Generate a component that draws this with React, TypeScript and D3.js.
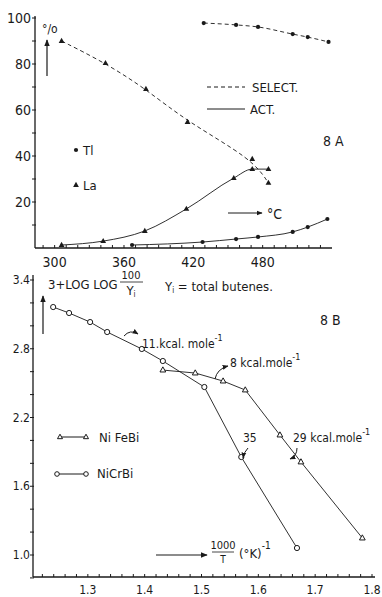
import React from 'react';
import * as d3 from 'd3';

// 8A: temperature (°C) vs % — La (triangles) and Tl (dots)
const laSelect: [number, number][] = [[306, 90], [344, 80.4], [379, 69.1], [415, 54.8], [471, 38.7], [485, 28.3]];
const laAct: [number, number][] = [[306, 1.3], [342, 3.0], [378, 7.4], [414, 17.0], [455, 30.4], [471, 34.3], [485, 34.3]];
const tlSelect: [number, number][] = [[429, 97.8], [457, 97.0], [476, 96.1], [506, 93.0], [519, 91.7], [537, 89.6]];
const tlAct: [number, number][] = [[367, 1.3], [428, 2.6], [457, 3.9], [476, 4.8], [506, 7.0], [519, 9.1], [536, 12.6]];
const aXTicks = [300, 360, 420, 480];
const aYTicks = [20, 40, 60, 80, 100];

// 8B: 1000/T vs 3 + log log 100/Yi
const niFeBi: [number, number][] = [[1.432, 2.614], [1.489, 2.588], [1.538, 2.518], [1.577, 2.44], [1.638, 2.047], [1.675, 1.812], [1.783, 1.148]];
const niCrBi: [number, number][] = [[1.239, 3.164], [1.267, 3.112], [1.304, 3.033], [1.334, 2.946], [1.395, 2.798], [1.432, 2.693], [1.505, 2.466], [1.57, 1.855], [1.668, 1.061]];
const bXTicks = [1.3, 1.4, 1.5, 1.6, 1.7, 1.8];
const bYTicks = [1.0, 1.6, 2.2, 2.8, 3.4];

const INK = '#1a1a1a';
const FONT = '"Liberation Sans Narrow", "DejaVu Sans Condensed", "Liberation Sans", sans-serif';

const tri = (x: number, y: number, s: number) => `M${x},${y - s}L${x + s * 0.9},${y + s * 0.6}L${x - s * 0.9},${y + s * 0.6}Z`;

const App: React.FC = () => {
  const xA = d3.scaleLinear().domain([283, 540]).range([35, 332]);
  const yA = d3.scaleLinear().domain([0, 100]).range([248, 18]);
  const xB = d3.scaleLinear().domain([1.2, 1.8]).range([31, 372]);
  const yB = d3.scaleLinear().domain([1.0, 3.4]).range([555, 280]);

  const lineA = d3.line<[number, number]>().x(d => xA(d[0])).y(d => yA(d[1])).curve(d3.curveMonotoneX);
  const smoothA = d3.line<[number, number]>().x(d => xA(d[0])).y(d => yA(d[1])).curve(d3.curveBasis);
  const lineB = d3.line<[number, number]>().x(d => xB(d[0])).y(d => yB(d[1]));

  const aMinor = d3.range(290, 540, 10);
  const aYMinor = d3.range(10, 101, 10);
  const bXMinor = d3.range(1.22, 1.805, 0.02);
  const bYMinor = d3.range(0.8, 3.41, 0.2);

  return (
    <svg width={382} height={597} style={{ position: 'absolute', left: 0, top: 0, background: '#fff' }}
      fontFamily={FONT} fill={INK}>
      <defs>
        <marker id="ah" viewBox="0 0 10 10" refX="9" refY="5" markerWidth="6" markerHeight="6" orient="auto">
          <path d="M0,1L10,5L0,9Z" fill={INK} />
        </marker>
      </defs>

      {/* ---------- 8A ---------- */}
      <g stroke={INK} strokeWidth={1.3} fill="none">
        <line x1={35} y1={16} x2={35} y2={yA(0)} />
        <line x1={35} y1={yA(0)} x2={332} y2={yA(0)} />
        {aYMinor.map(v => <line key={v} x1={32} x2={36} y1={yA(v)} y2={yA(v)} strokeWidth={1} />)}
        {aMinor.map(v => <line key={v} x1={xA(v)} x2={xA(v)} y1={yA(0)} y2={yA(0) - 3} strokeWidth={1} />)}
      </g>
      {aYTicks.map(v => (
        <text key={v} x={31} y={yA(v) + 5} textAnchor="end" fontSize={14}>{v}</text>
      ))}
      {aXTicks.map(v => (
        <text key={v} x={xA(v)} y={267} textAnchor="middle" fontSize={14}>{v}</text>
      ))}

      <path d={smoothA(laSelect) || ''} fill="none" stroke={INK} strokeWidth={0.9} strokeDasharray="4,3" />
      <path d={lineA(tlSelect) || ''} fill="none" stroke={INK} strokeWidth={0.9} strokeDasharray="4,3" />
      <path d={lineA(laAct) || ''} fill="none" stroke={INK} strokeWidth={0.9} />
      <path d={lineA(tlAct) || ''} fill="none" stroke={INK} strokeWidth={0.9} />
      {[...laSelect, ...laAct].map((d, i) => <path key={'la' + i} d={tri(xA(d[0]), yA(d[1]), 3.2)} fill={INK} />)}
      {[...tlSelect, ...tlAct].map((d, i) => <circle key={'tl' + i} cx={xA(d[0])} cy={yA(d[1])} r={2.1} fill={INK} />)}

      <text x={42} y={33} fontSize={12}>°/o</text>
      <line x1={47} y1={76} x2={47} y2={40} stroke={INK} strokeWidth={1.2} markerEnd="url(#ah)" />
      <line x1={207} y1={87} x2={245} y2={87} stroke={INK} strokeWidth={1} strokeDasharray="4,3" />
      <text x={252} y={92} fontSize={13}>SELECT.</text>
      <line x1={207} y1={109} x2={245} y2={109} stroke={INK} strokeWidth={1} />
      <text x={250} y={114} fontSize={13}>ACT.</text>
      <text x={323} y={146} fontSize={14}>8 A</text>
      <circle cx={76} cy={150} r={2.1} fill={INK} />
      <text x={83} y={155} fontSize={13}>Tl</text>
      <path d={tri(76, 185, 3.2)} fill={INK} />
      <text x={83} y={190} fontSize={13}>La</text>
      <line x1={228} y1={213} x2={262} y2={213} stroke={INK} strokeWidth={1} markerEnd="url(#ah)" />
      <text x={267} y={219} fontSize={14}>°C</text>

      {/* ---------- 8B ---------- */}
      <g stroke={INK} strokeWidth={1.3} fill="none">
        <line x1={33} y1={275} x2={33} y2={577} />
        <line x1={33} y1={577} x2={375} y2={577} />
        {bYMinor.map(v => <line key={v} x1={30} x2={34} y1={yB(v)} y2={yB(v)} strokeWidth={1} />)}
        {bXMinor.map(v => <line key={v} x1={xB(v)} x2={xB(v)} y1={577} y2={574} strokeWidth={1} />)}
      </g>
      {bYTicks.map(v => (
        <text key={v} x={30} y={yB(v) + 4} textAnchor="end" fontSize={12}>{v.toFixed(1)}</text>
      ))}
      {bXTicks.map(v => (
        <text key={v} x={xB(v)} y={594} textAnchor="middle" fontSize={12}>{v.toFixed(1)}</text>
      ))}

      <path d={lineB(niCrBi) || ''} fill="none" stroke={INK} strokeWidth={0.9} />
      <path d={lineB(niFeBi) || ''} fill="none" stroke={INK} strokeWidth={0.9} />
      {niCrBi.map((d, i) => <circle key={'cr' + i} cx={xB(d[0])} cy={yB(d[1])} r={2.6} fill="#fff" stroke={INK} strokeWidth={1} />)}
      {niFeBi.map((d, i) => <path key={'fe' + i} d={tri(xB(d[0]), yB(d[1]), 3.2)} fill="#fff" stroke={INK} strokeWidth={1} />)}

      <text x={48} y={289} fontSize={13}>3+LOG LOG</text>
      <text x={131} y={279} textAnchor="middle" fontSize={11}>100</text>
      <line x1={120} x2={143} y1={282} y2={282} stroke={INK} strokeWidth={0.8} />
      <text x={131} y={295} textAnchor="middle" fontSize={13}>Y<tspan fontSize={8} dy={2}>i</tspan></text>
      <text x={165} y={291} fontSize={13}>Y<tspan fontSize={8} dy={2}>i</tspan><tspan dy={-2}> = total  butenes.</tspan></text>
      <line x1={43} y1={334} x2={43} y2={296} stroke={INK} strokeWidth={1.2} markerEnd="url(#ah)" />
      <text x={320} y={325} fontSize={14}>8 B</text>

      <text x={142} y={348} fontSize={12}>11.kcal. mole<tspan fontSize={9} dy={-7}>-1</tspan></text>
      <path d="M124,336 Q130,329 138,334" fill="none" stroke={INK} strokeWidth={1} markerEnd="url(#ah)" />
      <text x={230} y={367} fontSize={12}>8 kcal.mole<tspan fontSize={9} dy={-7}>-1</tspan></text>
      <path d="M215,379 Q217,369 228,366" fill="none" stroke={INK} strokeWidth={1} markerEnd="url(#ah)" />
      <text x={243} y={442} fontSize={12}>35</text>
      <path d="M248,448 Q244,452 243,458" fill="none" stroke={INK} strokeWidth={1} markerEnd="url(#ah)" />
      <text x={293} y={442} fontSize={12}>29 kcal.mole<tspan fontSize={9} dy={-7}>-1</tspan></text>
      <path d="M297,448 Q297,456 290,459" fill="none" stroke={INK} strokeWidth={1} markerEnd="url(#ah)" />

      <line x1={60} x2={86} y1={437} y2={437} stroke={INK} strokeWidth={1} />
      <path d={tri(60, 437, 2.8)} fill="#fff" stroke={INK} strokeWidth={1} />
      <path d={tri(86, 437, 2.8)} fill="#fff" stroke={INK} strokeWidth={1} />
      <text x={99} y={442} fontSize={13}>Ni FeBi</text>
      <line x1={57} x2={86} y1={474} y2={474} stroke={INK} strokeWidth={1} />
      <circle cx={57} cy={474} r={2.3} fill="#fff" stroke={INK} strokeWidth={1} />
      <circle cx={86} cy={474} r={2.3} fill="#fff" stroke={INK} strokeWidth={1} />
      <text x={97} y={478} fontSize={13}>NiCrBi</text>

      <line x1={156} y1={555} x2={207} y2={555} stroke={INK} strokeWidth={1.2} markerEnd="url(#ah)" />
      <text x={223} y={549} textAnchor="middle" fontSize={11}>1000</text>
      <line x1={212} x2={234} y1={552} y2={552} stroke={INK} strokeWidth={0.8} />
      <text x={223} y={563} textAnchor="middle" fontSize={10}>T</text>
      <text x={239} y={558} fontSize={13}>(°K)<tspan fontSize={10} dy={-9}>-1</tspan></text>
    </svg>
  );
};

export default App;
